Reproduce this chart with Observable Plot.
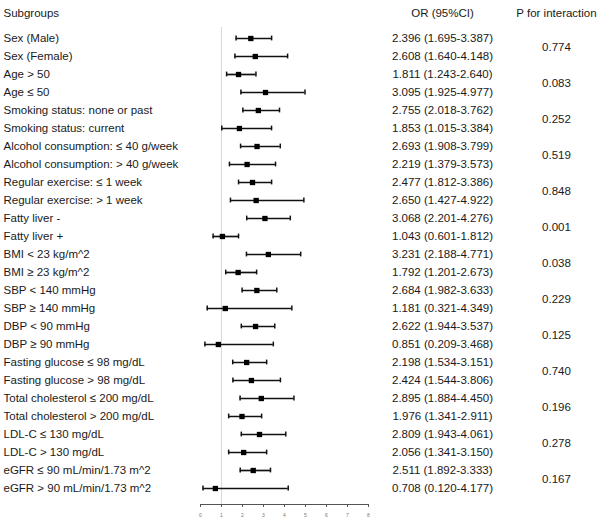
<!DOCTYPE html>
<html>
<head>
<meta charset="utf-8">
<script src="https://cdn.jsdelivr.net/npm/d3@7"></script>
<script src="https://cdn.jsdelivr.net/npm/@observablehq/plot@0.6"></script>
<style>
  html, body { margin: 0; padding: 0; background: #fff; }
</style>
</head>
<body>
<div id="chart"></div>
<script>
const subgroups = [
  "Sex (Male)", "Sex (Female)",
  "Age > 50", "Age ≤ 50",
  "Smoking status: none or past", "Smoking status: current",
  "Alcohol consumption: ≤ 40 g/week", "Alcohol consumption: > 40 g/week",
  "Regular exercise: ≤ 1 week", "Regular exercise: > 1 week",
  "Fatty liver -", "Fatty liver +",
  "BMI < 23 kg/m^2", "BMI ≥ 23 kg/m^2",
  "SBP < 140 mmHg", "SBP ≥ 140 mmHg",
  "DBP < 90 mmHg", "DBP ≥ 90 mmHg",
  "Fasting glucose ≤ 98 mg/dL", "Fasting glucose > 98 mg/dL",
  "Total cholesterol ≤ 200 mg/dL", "Total cholesterol > 200 mg/dL",
  "LDL-C ≤ 130 mg/dL", "LDL-C > 130 mg/dL",
  "eGFR ≤ 90 mL/min/1.73 m^2", "eGFR > 90 mL/min/1.73 m^2"
];
const orValues = [2.396, 2.608, 1.811, 3.095, 2.755, 1.853, 2.693, 2.219, 2.477, 2.650,
  3.068, 1.043, 3.231, 1.792, 2.684, 1.181, 2.622, 0.851, 2.198, 2.424,
  2.895, 1.976, 2.809, 2.056, 2.511, 0.708];
const ciLower = [1.695, 1.640, 1.243, 1.925, 2.018, 1.015, 1.908, 1.379, 1.812, 1.427,
  2.201, 0.601, 2.188, 1.201, 1.982, 0.321, 1.944, 0.209, 1.534, 1.544,
  1.884, 1.341, 1.943, 1.341, 1.892, 0.120];
const ciUpper = [3.387, 4.148, 2.640, 4.977, 3.762, 3.384, 3.799, 3.573, 3.386, 4.922,
  4.276, 1.812, 4.771, 2.673, 3.633, 4.349, 3.537, 3.468, 3.151, 3.806,
  4.450, 2.911, 4.061, 3.150, 3.333, 4.177];
const pInteraction = ["0.774", "0.083", "0.252", "0.519", "0.848", "0.001", "0.038",
  "0.229", "0.125", "0.740", "0.196", "0.278", "0.167"];
const xTicks = [0, 1, 2, 3, 4, 5, 6, 7, 8];
const headers = { subgroup: "Subgroups", or: "OR (95%CI)", p: "P for interaction" };

const rows = subgroups.map((label, i) => ({
  label, or: orValues[i], lo: ciLower[i], hi: ciUpper[i],
  text: `${orValues[i].toFixed(3)} (${ciLower[i].toFixed(3)}-${ciUpper[i].toFixed(3)})`
}));
const pRows = pInteraction.map((p, i) => ({ label: subgroups[2 * i], p }));

const chart = Plot.plot({
  width: 600,
  height: 521,
  marginLeft: 200,
  marginRight: 232,
  marginTop: 27,
  marginBottom: 14,
  style: { fontFamily: "'Liberation Sans', Arial, sans-serif", fontSize: "11.5px", color: "#1a1a1a", background: "#fff" },
  x: { domain: [0, 8], ticks: xTicks },
  y: { type: "band", domain: subgroups, range: [25, 500.3], padding: 0, axis: null },
  marks: [
    Plot.ruleX([1], { stroke: "#d9d9d9", strokeWidth: 1 }),
    Plot.ruleY([subgroups[subgroups.length - 1]], { x1: 0, x2: 8, dy: 16, stroke: "#555", strokeWidth: 1 }),
    Plot.axisX({ ticks: xTicks, tickSize: -3, tickPadding: 9, fontSize: 5, stroke: "#555", fill: "#777", tickFormat: d => d }),
    Plot.ruleY(rows, { y: "label", x1: "lo", x2: "hi", stroke: "#111", strokeWidth: 1.7 }),
    Plot.tickX(rows, { y: "label", x: "lo", stroke: "#111", strokeWidth: 1.5, insetTop: 6.6, insetBottom: 6.6 }),
    Plot.tickX(rows, { y: "label", x: "hi", stroke: "#111", strokeWidth: 1.5, insetTop: 6.6, insetBottom: 6.6 }),
    Plot.dot(rows, { y: "label", x: "or", symbol: "square", r: 3, fill: "#000", stroke: null }),
    Plot.text(rows, { y: "label", text: "label", frameAnchor: "left", textAnchor: "start", dx: -197 }),
    Plot.text(rows, { y: "label", text: "text", frameAnchor: "right", textAnchor: "middle", dx: 74 }),
    Plot.text(pRows, { y: "label", text: "p", frameAnchor: "right", textAnchor: "middle", dx: 188, dy: 9.14 }),
    Plot.text([headers.subgroup], { text: d => d, frameAnchor: "top-left", textAnchor: "start", dx: -197, dy: -19 }),
    Plot.text([headers.or], { text: d => d, frameAnchor: "top-right", textAnchor: "middle", dx: 74, dy: -19 }),
    Plot.text([headers.p], { text: d => d, frameAnchor: "top-right", textAnchor: "middle", dx: 188, dy: -19 })
  ]
});
document.getElementById("chart").appendChild(chart);
</script>
</body>
</html>
